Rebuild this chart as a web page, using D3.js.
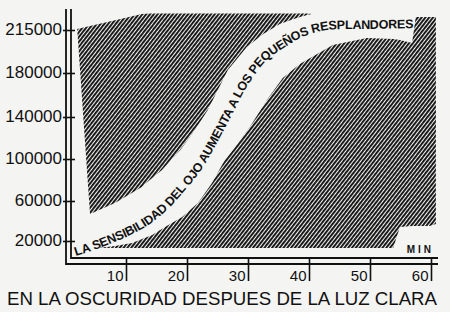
<!DOCTYPE html>
<html>
<head>
<meta charset="utf-8">
<script src="https://cdn.jsdelivr.net/npm/d3@7"></script>
<style>
  body { margin: 0; background: #f4f4f2; }
  svg { display: block; }
</style>
</head>
<body>
<svg id="chart" width="450" height="312"></svg>
<script>
// ejes
const minuteTicks = [10, 20, 30, 40, 50, 60];
const valueTicks = [20000, 60000, 100000, 140000, 180000, 215000];

// zona rayada superior (minutos, borde inferior, borde superior)
const upMin  = [2.0, 4.1, 8.2, 12.6, 13.9, 15.9, 18.9, 21.3, 23.4, 26.7, 29.8, 32.5, 35.2, 38.0, 39.7, 40.5];
const upEdge = [215800, 47000, 58000, 73300, 80000, 89500, 108600, 127600, 146400, 182400, 201200, 211700, 219900, 224800, 227200, 228000];
const upTop  = [215800, 218300, 223000, 228100, 228400, 228400, 228400, 228400, 228400, 228400, 228400, 228400, 228400, 228400, 228400, 228000];

// zona rayada inferior
const lowMin   = [5.4, 8.2, 11.0, 14.3, 16.4, 19.2, 21.8, 24.1, 26.2, 27.5, 30.3, 33.1, 35.7, 38.5, 43.9, 49.5, 53.8, 54.9, 56.9, 57.5, 59.8, 60.8];
const lowEdge  = [11300, 13800, 17500, 26000, 34000, 44000, 58000, 77100, 99000, 108600, 130500, 155500, 175500, 187300, 202800, 208500, 207700, 206900, 204400, 225600, 225600, 225600];
const lowFloor = [11300, 11300, 11300, 11300, 11300, 11300, 11300, 11300, 11300, 11300, 11300, 11300, 11300, 11300, 11300, 11300, 11300, 34000, 35000, 35000, 35000, 37000];

// banda blanca: linea base del texto
const labelMin = [1.8, 5.7, 10.7, 13.9, 16.9, 19.7, 22.1, 24.1, 27.1, 29.8, 32.8, 36.1, 39.3, 43.0, 50.0, 57.1];
const labelVal = [1250, 11300, 26000, 37000, 52000, 70500, 87600, 106700, 139000, 167300, 189000, 201200, 210100, 215000, 215800, 216600];

const bandLabel = "LA SENSIBILIDAD DEL OJO AUMENTA A LOS PEQUEÑOS RESPLANDORES";
const unitLabel = "MIN";
const title = "EN LA OSCURIDAD DESPUES DE LA LUZ CLARA";

const ink = "#111";
const font = "'Liberation Sans', Arial, sans-serif";

const svg = d3.select("#chart");

const x = d3.scaleLinear().domain([0, 60]).range([65, 431]);
// escala dibujada a mano: separaciones irregulares
const y = d3.scaleLinear()
  .domain([0, 20000, 60000, 100000, 140000, 180000, 215000])
  .range([257, 241, 201, 159, 117, 73, 30]);

const defs = svg.append("defs");
const pat = defs.append("pattern")
  .attr("id", "hatch")
  .attr("patternUnits", "userSpaceOnUse")
  .attr("width", 3)
  .attr("height", 10)
  .attr("patternTransform", "rotate(38)");
pat.append("rect").attr("width", 1.9).attr("height", 10).attr("fill", ink);

// areas rayadas
const upperArea = d3.area()
  .x(i => x(upMin[i]))
  .y0(i => y(upEdge[i]))
  .y1(i => y(upTop[i]));

const lowerArea = d3.area()
  .x(i => x(lowMin[i]))
  .y0(i => y(lowFloor[i]))
  .y1(i => y(lowEdge[i]));

svg.append("path")
  .attr("d", upperArea(d3.range(upMin.length)))
  .attr("fill", "url(#hatch)");

svg.append("path")
  .attr("d", lowerArea(d3.range(lowMin.length)))
  .attr("fill", "url(#hatch)");

// texto sobre la banda
const labelLine = d3.line()
  .x(i => x(labelMin[i]))
  .y(i => y(labelVal[i]))
  .curve(d3.curveCatmullRom);

const bandPath = defs.append("path")
  .attr("id", "bandPath")
  .attr("d", labelLine(d3.range(labelMin.length)));

const bandText = svg.append("text")
  .attr("font-family", font)
  .attr("font-size", 12.5)
  .attr("font-weight", "bold")
  .attr("fill", ink);
bandText.append("textPath")
  .attr("href", "#bandPath")
  .text(bandLabel);

const pathLen = bandPath.node().getTotalLength();
const textLen = bandText.node().getComputedTextLength();
bandText.attr("letter-spacing", (pathLen - textLen) / (bandLabel.length - 1));

// ejes dobles
const axisLines = svg.append("g").attr("stroke", ink).attr("stroke-width", 1.8).attr("fill", "none");
axisLines.append("path").attr("d", `M66,9V264H438`);
axisLines.append("path").attr("d", `M71,9V258H438`);

const yAxis = svg.append("g")
  .attr("transform", "translate(75,0)")
  .call(d3.axisLeft(y).tickValues(valueTicks).tickSize(12).tickPadding(1).tickFormat(d3.format("d")));
yAxis.select(".domain").remove();
yAxis.selectAll("line").attr("stroke", ink).attr("stroke-width", 1.6);
yAxis.selectAll("text")
  .attr("dy", 4)
  .attr("font-family", font)
  .attr("font-size", 17)
  .attr("fill", ink);

const xAxis = svg.append("g")
  .attr("transform", "translate(0,257)")
  .call(d3.axisBottom(x).tickValues(minuteTicks).tickSize(24));
xAxis.select(".domain").remove();
xAxis.selectAll("line").attr("stroke", ink).attr("stroke-width", 1.6);
xAxis.selectAll("text")
  .attr("x", -3)
  .attr("y", 24)
  .attr("dy", 0)
  .attr("text-anchor", "end")
  .attr("font-family", font)
  .attr("font-size", 15)
  .attr("fill", ink);

svg.append("text")
  .attr("x", 434)
  .attr("y", 253)
  .attr("text-anchor", "end")
  .attr("font-family", font)
  .attr("font-size", 10)
  .attr("font-weight", "bold")
  .attr("letter-spacing", 3)
  .attr("fill", ink)
  .text(unitLabel);

svg.append("text")
  .attr("x", 7)
  .attr("y", 305)
  .attr("textLength", 430)
  .attr("lengthAdjust", "spacingAndGlyphs")
  .attr("font-family", font)
  .attr("font-size", 19)
  .attr("fill", ink)
  .text(title);
</script>
</body>
</html>
